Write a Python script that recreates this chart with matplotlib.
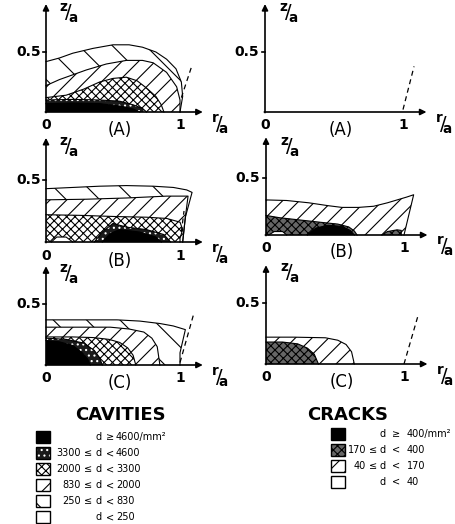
import numpy as np
import matplotlib.pyplot as plt

plt.rcParams['hatch.linewidth'] = 0.8

# ---------------- data (r/a, z/a) ----------------
# cavities, panel A
cavA_250_r = [0, 0.1, 0.2, 0.35, 0.5, 0.62, 0.72, 0.82, 0.9, 0.97, 1.01, 1.02, 1.0]
cavA_250_z = [0.42, 0.45, 0.49, 0.53, 0.56, 0.56, 0.54, 0.5, 0.44, 0.36, 0.25, 0.13, 0.0]
cavA_830_r = [0, 0.1, 0.3, 0.45, 0.6, 0.72, 0.8, 0.9, 0.975, 1.0, 1.0]
cavA_830_z = [0.22, 0.27, 0.35, 0.4, 0.43, 0.43, 0.41, 0.33, 0.21, 0.1, 0.0]
cavA_2000_r = [0, 0.15, 0.28, 0.4, 0.5, 0.6, 0.68, 0.75, 0.82, 0.86, 0.88]
cavA_2000_z = [0.12, 0.14, 0.19, 0.25, 0.28, 0.29, 0.26, 0.2, 0.13, 0.06, 0.0]
cavA_3300_r = [0, 0.2, 0.4, 0.55, 0.65, 0.72, 0.75]
cavA_3300_z = [0.1, 0.105, 0.1, 0.09, 0.06, 0.03, 0.0]
cavA_4600_r = [0, 0.2, 0.4, 0.55, 0.65, 0.7]
cavA_4600_z = [0.07, 0.075, 0.07, 0.05, 0.025, 0.0]

# cavities, panel B
cavB_250_r = [0, 0.2, 0.4, 0.6, 0.8, 0.95, 1.05, 1.09, 1.04, 1.02]
cavB_250_z = [0.43, 0.44, 0.45, 0.455, 0.45, 0.44, 0.42, 0.4, 0.2, 0.0]
cavB_830_r = [0, 0.3, 0.6, 0.9, 1.06, 1.04, 1.02]
cavB_830_z = [0.34, 0.345, 0.355, 0.37, 0.37, 0.2, 0.0]
cavB_2000_r = [0, 0.25, 0.53, 0.75, 0.9, 1.0, 1.02, 1.0, 1.0]
cavB_2000_z = [0.22, 0.215, 0.205, 0.2, 0.19, 0.16, 0.1, 0.03, 0.0]
cavB_3300_r = [0.36, 0.42, 0.5, 0.6, 0.75, 0.88, 0.93]
cavB_3300_z = [0.0, 0.08, 0.15, 0.12, 0.1, 0.06, 0.0]
cavB_4600_r = [0.42, 0.48, 0.55, 0.7, 0.82, 0.86]
cavB_4600_z = [0.0, 0.07, 0.1, 0.08, 0.04, 0.0]
cavB_low_r = [0.04, 0.08, 0.15, 0.2]
cavB_low_z = [0.0, 0.04, 0.04, 0.0]

# cavities, panel C
cavC_250_r = [0, 0.3, 0.53, 0.7, 0.85, 0.95, 1.04, 1.0, 1.0]
cavC_250_z = [0.37, 0.37, 0.37, 0.36, 0.34, 0.32, 0.29, 0.1, 0.0]
cavC_830_r = [0, 0.25, 0.48, 0.62, 0.73, 0.79, 0.83, 0.85]
cavC_830_z = [0.31, 0.31, 0.31, 0.295, 0.27, 0.22, 0.15, 0.0]
cavC_2000_r = [0, 0.2, 0.35, 0.47, 0.55, 0.61, 0.65, 0.67]
cavC_2000_z = [0.23, 0.23, 0.225, 0.21, 0.185, 0.14, 0.08, 0.0]
cavC_3300_r = [0, 0.15, 0.28, 0.36, 0.4, 0.42]
cavC_3300_z = [0.22, 0.21, 0.18, 0.12, 0.06, 0.0]
cavC_4600_r = [0, 0.1, 0.2, 0.27, 0.31, 0.33]
cavC_4600_z = [0.2, 0.19, 0.16, 0.1, 0.05, 0.0]

# cracks, panel B
crkB_40_r = [0, 0.15, 0.31, 0.45, 0.55, 0.67, 0.78, 0.88, 0.95, 1.02, 1.07, 1.04, 1.0]
crkB_40_z = [0.305, 0.3, 0.28, 0.255, 0.24, 0.24, 0.25, 0.28, 0.305, 0.33, 0.35, 0.2, 0.0]
crkB_170_r = [0, 0.1, 0.25, 0.4, 0.52, 0.6, 0.64, 0.66]
crkB_170_z = [0.17, 0.15, 0.13, 0.11, 0.095, 0.07, 0.035, 0.0]
crkB_400_r = [0.3, 0.36, 0.45, 0.55, 0.61, 0.64]
crkB_400_z = [0.0, 0.06, 0.085, 0.075, 0.04, 0.0]
crkB_edge_r = [0.84, 0.88, 0.95, 0.98, 0.98]
crkB_edge_z = [0.0, 0.03, 0.045, 0.04, 0.0]
crkB_low_r = [0.02, 0.06, 0.12, 0.15]
crkB_low_z = [0.0, 0.03, 0.03, 0.0]

# cracks, panel C
crkC_40_r = [0, 0.2, 0.43, 0.52, 0.58, 0.62, 0.64]
crkC_40_z = [0.22, 0.22, 0.215, 0.195, 0.16, 0.1, 0.0]
crkC_170_r = [0, 0.12, 0.23, 0.3, 0.35, 0.38]
crkC_170_z = [0.18, 0.18, 0.165, 0.13, 0.08, 0.0]

# dashed lines (free surface)
dashA_r, dashA_z = [1.01, 1.09], [0.12, 0.39]
dashBl_r, dashBl_z = [1.01, 1.03], [0.08, 0.25]
dashC_r, dashC_z = [1.0, 1.1], [0.02, 0.41]
dashrA_r, dashrA_z = [1.0, 1.08], [0.02, 0.38]
dashrC_r, dashrC_z = [1.0, 1.1], [0.0, 0.39]

cav_labels = [("", "", "d", "\u2265", "4600/mm\u00b2"),
              ("3300", "\u2264", "d", "<", "4600"),
              ("2000", "\u2264", "d", "<", "3300"),
              ("830", "\u2264", "d", "<", "2000"),
              ("250", "\u2264", "d", "<", "830"),
              ("", "", "d", "<", "250")]
cav_classes = ["4600", "3300", "2000", "830", "250", "low"]
crk_labels = [("", "", "d", "\u2265", "400/mm\u00b2"),
              ("170", "\u2264", "d", "<", "400"),
              ("40", "\u2264", "d", "<", "170"),
              ("", "", "d", "<", "40")]
crk_classes = ["c400", "c170", "c40", "low"]

# ---------------- styles: facecolor, hatch colour, hatch ----------------
style = {
    "low": ("white", "black", ""),
    "250": ("white", "black", "\\"),
    "830": ("white", "black", "//"),
    "2000": ("white", "black", "xxxx"),
    "3300": ("0.1", "white", "..."),
    "4600": ("black", "black", ""),
    "c40": ("white", "black", "//"),
    "c170": ("0.4", "black", "xxxx"),
    "c400": ("black", "black", ""),
}

W, H = 456, 524
R0, R1, Z0, Z1 = -0.35, 1.5, -0.3, 1.0
fig = plt.figure(figsize=(W / 100, H / 100), dpi=100)


def make_panel(ox, oy, sx, sy):
    left = ox + R0 * sx
    bot = oy - Z0 * sy
    ax = fig.add_axes([left / W, 1 - bot / H, (R1 - R0) * sx / W, (Z1 - Z0) * sy / H])
    ax.set_xlim(R0, R1)
    ax.set_ylim(Z0, Z1)
    ax.axis('off')
    return ax


def region(ax, cls, r, z):
    fc, hc, hatch = style[cls]
    ax.fill(np.r_[0, r], np.r_[0, z], facecolor=fc, edgecolor=hc, hatch=hatch, lw=0, zorder=2)
    ax.plot(r, z, color='black', lw=0.8, zorder=3)


def frame(ax, letter, ztop, zlab):
    arrow = dict(arrowstyle='-|>', lw=1.2, color='black', mutation_scale=9, shrinkA=0, shrinkB=0)
    ax.annotate('', xy=(1.17, 0), xytext=(-0.005, 0), arrowprops=arrow, zorder=5)
    ax.annotate('', xy=(0, ztop), xytext=(0, -0.005), arrowprops=arrow, zorder=5)
    ax.plot([-0.025, 0], [0.5, 0.5], color='black', lw=1.2)
    ax.text(-0.04, 0.5, '0.5', ha='right', va='center', fontsize=10, fontweight='bold')
    ax.text(0, -0.11, '0', ha='center', va='center', fontsize=10, fontweight='bold')
    ax.text(1.0, -0.11, '1', ha='center', va='center', fontsize=10, fontweight='bold')
    ax.text(0.55, -0.15, '(%s)' % letter, ha='center', va='center', fontsize=12)
    ax.text(1.3, -0.1, r'${}^{\mathbf{r}}\!/\!{}_{\mathbf{a}}$', ha='center', va='center', fontsize=14)
    ax.text(0.17, zlab, r'${}^{\mathbf{z}}\!/\!{}_{\mathbf{a}}$', ha='center', va='center', fontsize=14)


def dashed(ax, r, z):
    ax.plot(r, z, color='black', lw=0.9, ls=(0, (4, 3)))


# cavities column
ax = make_panel(46, 112, 134, 120)
for cls, r, z in [("250", cavA_250_r, cavA_250_z), ("830", cavA_830_r, cavA_830_z),
                  ("2000", cavA_2000_r, cavA_2000_z), ("3300", cavA_3300_r, cavA_3300_z),
                  ("4600", cavA_4600_r, cavA_4600_z)]:
    region(ax, cls, r, z)
dashed(ax, dashA_r, dashA_z)
frame(ax, 'A', 0.9, 0.82)

ax = make_panel(46, 242, 134, 124)
for cls, r, z in [("250", cavB_250_r, cavB_250_z), ("830", cavB_830_r, cavB_830_z),
                  ("2000", cavB_2000_r, cavB_2000_z), ("3300", cavB_3300_r, cavB_3300_z),
                  ("4600", cavB_4600_r, cavB_4600_z), ("low", cavB_low_r, cavB_low_z)]:
    region(ax, cls, r, z)
dashed(ax, dashBl_r, dashBl_z)
frame(ax, 'B', 0.84, 0.76)

ax = make_panel(46, 365, 134, 122)
for cls, r, z in [("250", cavC_250_r, cavC_250_z), ("830", cavC_830_r, cavC_830_z),
                  ("2000", cavC_2000_r, cavC_2000_z), ("3300", cavC_3300_r, cavC_3300_z),
                  ("4600", cavC_4600_r, cavC_4600_z)]:
    region(ax, cls, r, z)
dashed(ax, dashC_r, dashC_z)
frame(ax, 'C', 0.81, 0.74)

# cracks column
ax = make_panel(265, 112, 138, 120)
dashed(ax, dashrA_r, dashrA_z)
frame(ax, 'A', 0.9, 0.82)

ax = make_panel(266, 235, 138, 115)
for cls, r, z in [("c40", crkB_40_r, crkB_40_z), ("c170", crkB_170_r, crkB_170_z),
                  ("c400", crkB_400_r, crkB_400_z), ("c170", crkB_edge_r, crkB_edge_z),
                  ("low", crkB_low_r, crkB_low_z)]:
    region(ax, cls, r, z)
frame(ax, 'B', 0.85, 0.76)

ax = make_panel(266, 364, 138, 122)
for cls, r, z in [("c40", crkC_40_r, crkC_40_z), ("c170", crkC_170_r, crkC_170_z)]:
    region(ax, cls, r, z)
dashed(ax, dashrC_r, dashrC_z)
frame(ax, 'C', 0.81, 0.74)

# legends, in pixel coordinates
axl = fig.add_axes([0, 0, 1, 1])
axl.set_xlim(0, W)
axl.set_ylim(H, 0)
axl.axis('off')


def legend(x0, y0, dy, title, tx, classes, labels, cols):
    axl.text(tx, 415, title, ha='center', va='center', fontsize=13, fontweight='bold')
    for i, (cls, lab) in enumerate(zip(classes, labels)):
        y = y0 + i * dy
        fc, hc, hatch = style[cls]
        axl.add_patch(plt.Rectangle((x0, y - 6), 14, 12, facecolor=fc, edgecolor=hc,
                                    hatch=hatch, lw=0))
        axl.add_patch(plt.Rectangle((x0, y - 6), 14, 12, fill=False, edgecolor='black', lw=1))
        for j, (p, cx) in enumerate(zip(lab, cols)):
            axl.text(cx, y, p, ha='right' if j == 0 else 'left', va='center', fontsize=7)


legend(36, 437, 16, 'CAVITIES', 120, cav_classes, cav_labels, [81, 84, 96, 106, 116])
legend(331, 434, 16, 'CRACKS', 348, crk_classes, crk_labels, [366, 369, 380, 392, 407])

fig.savefig('out.png', dpi=100)
